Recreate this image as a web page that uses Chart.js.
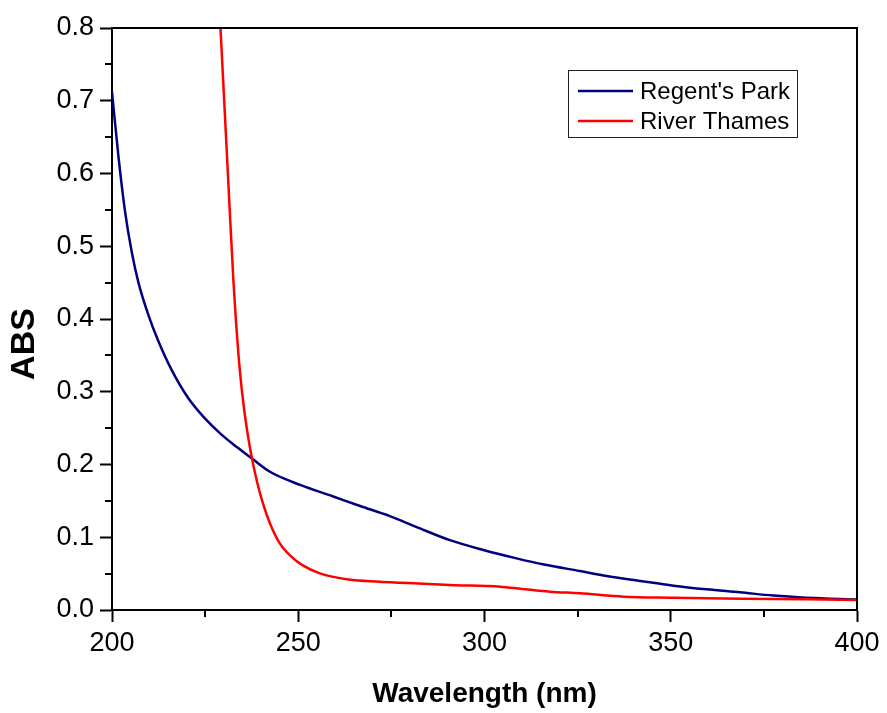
<!DOCTYPE html>
<html>
<head>
<meta charset="utf-8">
<script src="https://cdn.jsdelivr.net/npm/chart.js@4.4.1/dist/chart.umd.min.js"></script>
<style>
  html, body { margin: 0; padding: 0; background: #fff; }
  #wrap { width: 887px; height: 713px; }
</style>
</head>
<body>
<div id="wrap"><canvas id="uv-chart" width="887" height="713"></canvas></div>
<script>
// Regent's Park sample
const parkWavelength = [200, 201.7, 203.5, 205.3, 207.1, 209.8, 212.4, 216, 220.5, 225, 229.4, 233.5, 237.5, 242.4, 250.5, 259.4, 266.6, 274.6, 281.8, 290.7, 299.7, 308.6, 316, 325.6, 332.8, 341.7, 350.7, 359.6, 368.6, 377.5, 386.5, 400];
const parkAbs = [0.712, 0.625, 0.548, 0.492, 0.450, 0.405, 0.370, 0.330, 0.291, 0.263, 0.241, 0.224, 0.2085, 0.190, 0.172, 0.156, 0.143, 0.129, 0.114, 0.096, 0.0825, 0.071, 0.0625, 0.0536, 0.0467, 0.040, 0.0334, 0.0284, 0.0243, 0.0199, 0.017, 0.0145];

// River Thames sample
const thamesWavelength = [228.7, 229.6, 230.8, 231.7, 232.6, 233.3, 234.0, 234.8, 235.7, 236.7, 237.7, 239.0, 240.5, 242.5, 245.0, 248.0, 251.0, 255.8, 263.5, 271.9, 277.3, 290.7, 304.2, 310, 317.6, 325.6, 337.3, 350.7, 368.6, 386.5, 400];
const thamesAbs = [0.843, 0.752, 0.631, 0.540, 0.452, 0.395, 0.348, 0.305, 0.267, 0.233, 0.205, 0.175, 0.147, 0.118, 0.092, 0.074, 0.062, 0.0504, 0.042, 0.039, 0.0376, 0.0344, 0.032, 0.029, 0.0252, 0.023, 0.0183, 0.017, 0.0156, 0.0147, 0.0137];

const minorX = [225, 275, 325, 375];
const minorY = [0.05, 0.15, 0.25, 0.35, 0.45, 0.55, 0.65, 0.75];

const FONT = "'Liberation Sans', Arial, sans-serif";

function toPoints(xs, ys) {
    return xs.map((x, i) => ({ x: x, y: ys[i] }));
}

// box on top/right, minor ticks, y title and the inset legend
const framePlugin = {
    id: 'frame',
    afterDraw(chart) {
        const { ctx, chartArea: a, scales } = chart;
        ctx.save();
        ctx.strokeStyle = '#000';
        ctx.lineWidth = 2;
        ctx.beginPath();
        ctx.moveTo(a.left, a.top);
        ctx.lineTo(a.right, a.top);
        ctx.lineTo(a.right, a.bottom);
        minorX.forEach(v => {
            const px = Math.round(scales.x.getPixelForValue(v));
            ctx.moveTo(px, a.bottom);
            ctx.lineTo(px, a.bottom + 7);
        });
        minorY.forEach(v => {
            const py = Math.round(scales.y.getPixelForValue(v));
            ctx.moveTo(a.left, py);
            ctx.lineTo(a.left - 7, py);
        });
        ctx.stroke();

        // y axis title, sits a little below the middle in the original
        ctx.save();
        ctx.translate(25, (a.top + a.bottom) / 2 + 25);
        ctx.rotate(-Math.PI / 2);
        ctx.font = 'bold 34px ' + FONT;
        ctx.textAlign = 'center';
        ctx.textBaseline = 'middle';
        ctx.fillStyle = '#000';
        ctx.fillText('ABS', 0, 0);
        ctx.restore();

        // legend
        const bx = a.right - 289, by = a.top + 42, bw = 229, bh = 67;
        ctx.lineWidth = 1;
        ctx.strokeStyle = '#222';
        ctx.strokeRect(bx + 0.5, by + 0.5, bw, bh);
        ctx.font = '24px ' + FONT;
        ctx.textBaseline = 'middle';
        ctx.fillStyle = '#000';
        chart.data.datasets.forEach((ds, i) => {
            const ly = by + 21 + i * 30;
            ctx.strokeStyle = ds.borderColor;
            ctx.lineWidth = 2.5;
            ctx.beginPath();
            ctx.moveTo(bx + 10, ly);
            ctx.lineTo(bx + 65, ly);
            ctx.stroke();
            ctx.fillText(ds.label, bx + 72, ly + 1);
        });
        ctx.restore();
    }
};

const ctx = document.getElementById('uv-chart').getContext('2d');
new Chart(ctx, {
    type: 'line',
    data: {
        datasets: [
            {
                label: "Regent's Park",
                data: toPoints(parkWavelength, parkAbs),
                borderColor: '#000080',
                borderWidth: 2.5,
                pointRadius: 0,
                cubicInterpolationMode: 'monotone',
                order: 1
            },
            {
                label: 'River Thames',
                data: toPoints(thamesWavelength, thamesAbs),
                borderColor: '#FF0000',
                borderWidth: 2.5,
                pointRadius: 0,
                cubicInterpolationMode: 'monotone',
                order: 0
            }
        ]
    },
    options: {
        responsive: false,
        animation: false,
        layout: { padding: { left: 0, top: 28, right: 30, bottom: 0 } },
        plugins: {
            legend: { display: false },
            tooltip: { enabled: false }
        },
        scales: {
            x: {
                type: 'linear',
                min: 200,
                max: 400,
                afterFit(scale) { scale.height = 103; },
                ticks: {
                    stepSize: 50,
                    color: '#000',
                    font: { family: FONT, size: 27 },
                    padding: 5,
                    maxRotation: 0
                },
                grid: {
                    drawOnChartArea: false,
                    drawTicks: true,
                    tickLength: 12,
                    tickWidth: 2,
                    tickColor: '#000'
                },
                border: { color: '#000', width: 2 },
                title: {
                    display: true,
                    text: 'Wavelength (nm)',
                    color: '#000',
                    font: { family: FONT, size: 28, weight: 'bold' },
                    padding: { top: 0, bottom: 2 }
                }
            },
            y: {
                min: 0,
                max: 0.8,
                afterFit(scale) { scale.width = 112; },
                ticks: {
                    stepSize: 0.1,
                    color: '#000',
                    font: { family: FONT, size: 27 },
                    padding: 6,
                    callback: v => v.toFixed(1)
                },
                grid: {
                    drawOnChartArea: false,
                    drawTicks: true,
                    tickLength: 12,
                    tickWidth: 2,
                    tickColor: '#000'
                },
                border: { color: '#000', width: 2 }
            }
        }
    },
    plugins: [framePlugin]
});
</script>
</body>
</html>
